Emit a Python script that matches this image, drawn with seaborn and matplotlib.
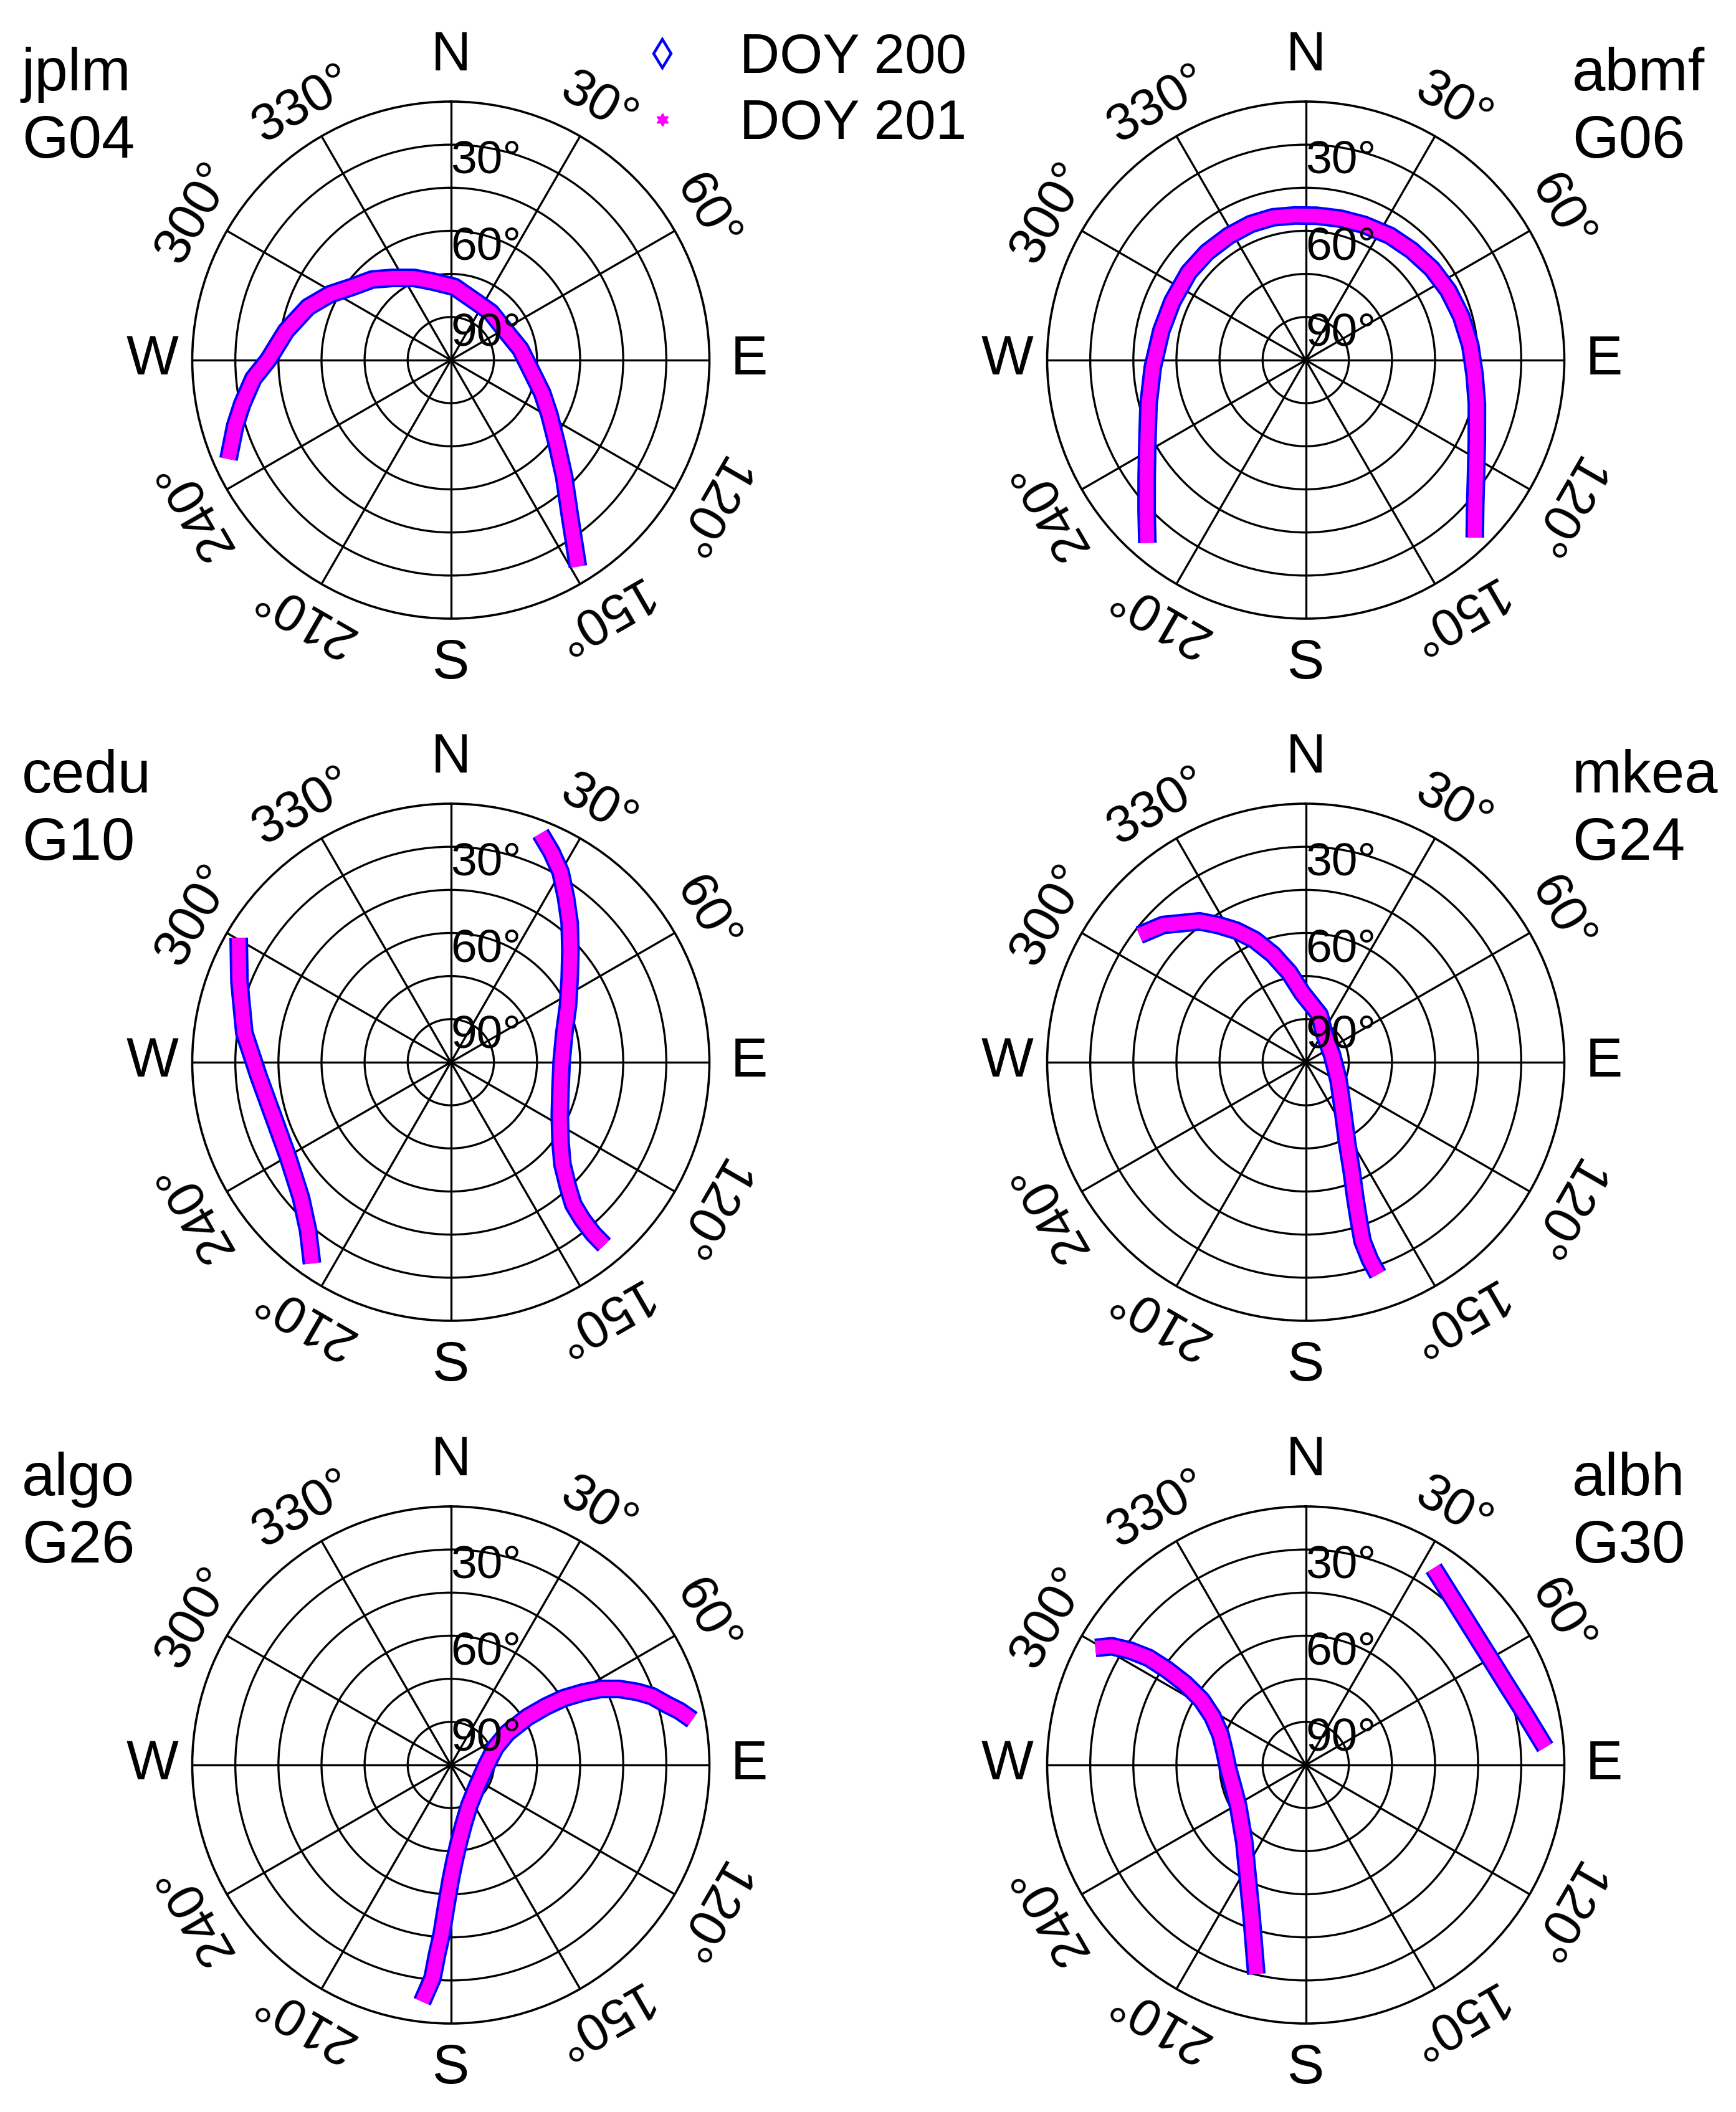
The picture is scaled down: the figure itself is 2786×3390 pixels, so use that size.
import numpy as np
import matplotlib
matplotlib.use("Agg")
import matplotlib.pyplot as plt
from matplotlib.lines import Line2D
import seaborn as sns

jplm_g04_az = [246.0, 253.0, 258.1, 264.7, 270.0, 280.1, 290.4, 298.6, 306.5, 315.7, 324.6, 336.0,
               346.9, 2.9, 20.0, 40.2, 61.9, 81.0, 97.8, 109.8, 119.1, 128.4, 135.9, 142.3, 148.4]
jplm_g04_el = [5.3, 11.5, 15.8, 21.0, 26.4, 31.8, 37.0, 42.1, 47.2, 50.8, 54.9, 58.7,
               61.9, 64.5, 67.6, 68.3, 68.4, 65.5, 61.7, 56.2, 50.7, 42.9, 33.3, 22.4, 5.6]

abmf_g06_az = [220.9, 226.7, 233.7, 243.1, 254.4, 267.3, 281.5, 293.7, 306.9, 317.5, 328.3, 338.0,
               347.0, 355.7, 4.3, 13.8, 23.4, 34.1, 44.0, 54.1, 64.0, 74.2, 84.9, 95.0, 104.4,
               115.2, 124.5, 130.8, 136.4]
abmf_g06_el = [5.8, 13.9, 21.3, 28.2, 33.2, 36.7, 38.7, 39.3, 39.1, 39.1, 39.1, 38.9,
               39.0, 39.5, 39.6, 39.3, 38.7, 37.7, 36.9, 35.8, 34.8, 33.8, 32.5, 31.0, 28.5,
               24.2, 18.1, 12.1, 4.7]

cedu_g10a_az = [300.4, 290.8, 278.1, 265.6, 252.8, 239.7, 227.9, 220.3, 214.6]
cedu_g10a_el = [4.4, 11.3, 17.4, 23.0, 25.4, 24.4, 19.7, 13.2, 4.9]
cedu_g10b_az = [21.4, 25.6, 30.0, 35.0, 40.5, 47.0, 54.7, 64.2, 75.5, 89.1, 103.1, 116.0,
                126.3, 132.5, 136.7, 139.3, 140.1, 140.3, 140.0]
cedu_g10b_el = [4.5, 8.9, 13.6, 20.1, 26.3, 33.1, 39.3, 44.7, 49.2, 51.4, 50.8, 47.8,
                42.6, 37.3, 30.6, 24.6, 18.6, 12.3, 6.9]

mkea_g24_az = [307.4, 313.9, 323.0, 327.4, 332.2, 337.3, 343.0, 349.6, 357.0, 16.3, 32.0, 74.5,
               119.1, 140.2, 152.8, 157.0, 159.9, 161.4, 162.4, 162.0, 161.2]
mkea_g24_el = [17.1, 21.1, 28.6, 33.3, 38.2, 43.8, 50.7, 58.3, 65.8, 72.8, 78.0, 80.5,
               76.9, 70.1, 58.5, 49.2, 39.9, 32.2, 24.6, 17.7, 12.0]

algo_g26_az = [79.4, 76.7, 74.3, 71.1, 68.6, 65.7, 63.1, 61.2, 59.4, 58.4, 58.0, 60.4, 68.5,
               91.2, 128.4, 155.9, 167.8, 174.1, 177.8, 180.0, 181.9, 183.1, 184.2, 184.9, 186.9]
algo_g26_el = [4.5, 8.2, 12.0, 16.0, 20.3, 25.7, 31.5, 37.7, 44.2, 51.1, 58.5, 67.3, 73.3,
               77.7, 78.3, 74.4, 68.9, 62.9, 56.6, 50.3, 40.7, 31.1, 23.4, 15.6, 7.0]

albh_g30a_az = [299.1, 301.5, 303.1, 304.3, 304.5, 304.0, 302.0, 297.5, 289.6, 279.7, 266.8,
                252.6, 238.8, 218.4, 206.9, 199.8, 195.3, 193.3]
albh_g30a_el = [6.2, 10.9, 17.1, 23.8, 31.3, 39.3, 47.2, 53.4, 58.5, 61.3, 63.0,
                63.6, 62.5, 55.6, 45.5, 34.3, 22.4, 15.2]
albh_g30b_az = [33.0, 41.1, 50.0, 59.2, 68.4, 77.0, 85.8]
albh_g30b_el = [8.3, 12.6, 15.2, 15.9, 14.7, 11.6, 6.4]

stations = ["jplm", "abmf", "cedu", "mkea", "algo", "albh"]
prns = ["G04", "G06", "G10", "G24", "G26", "G30"]
tracks = [
    [(jplm_g04_az, jplm_g04_el)],
    [(abmf_g06_az, abmf_g06_el)],
    [(cedu_g10a_az, cedu_g10a_el), (cedu_g10b_az, cedu_g10b_el)],
    [(mkea_g24_az, mkea_g24_el)],
    [(algo_g26_az, algo_g26_el)],
    [(albh_g30a_az, albh_g30a_el), (albh_g30b_az, albh_g30b_el)],
]
days = ["DOY 200", "DOY 201"]
az_labels = [30, 60, 120, 150, 210, 240, 300, 330]
compass = {0: "N", 90: "E", 180: "S", 270: "W"}
el_labels = [30, 60, 90]

sns.set_style("white")
plt.rcParams["font.family"] = ["Liberation Sans", "DejaVu Sans"]
plt.rcParams["text.color"] = "black"

W, H = 2786, 3390
fig = plt.figure(figsize=(W / 200, H / 200), dpi=200)

centers_x = [723.5, 2095.5]
centers_y = [578, 1705, 2833]
R = 415
big = 32
lab = 34.5
az_fs = 30
el_fs = 27

for i in range(6):
    row, col = divmod(i, 2)
    cx, cy = centers_x[col], centers_y[row]
    ax = fig.add_axes([(cx - R) / W, (H - cy - R) / H, 2 * R / W, 2 * R / H],
                      projection="polar")
    ax.set_theta_zero_location("N")
    ax.set_theta_direction(-1)
    ax.set_rlim(90, 0)
    ax.set_xticks(np.deg2rad(np.arange(0, 360, 30)))
    ax.set_yticks([75, 60, 45, 30, 15])
    ax.set_xticklabels([])
    ax.set_yticklabels([])
    ax.grid(True, color="black", lw=1.2, ls="-")
    ax.spines["polar"].set_color("black")
    ax.spines["polar"].set_linewidth(1.3)

    for az, el in tracks[i]:
        th = np.deg2rad(np.unwrap(np.array(az), period=360))
        sns.lineplot(x=th, y=el, ax=ax, sort=False, estimator=None, color="blue",
                     linewidth=10.8, solid_capstyle="butt", solid_joinstyle="round", zorder=3)
        sns.lineplot(x=th, y=el, ax=ax, sort=False, estimator=None, color="magenta",
                     linewidth=8.0, solid_capstyle="butt", solid_joinstyle="round", zorder=4)
    ax.set_xlabel("")
    ax.set_ylabel("")

    for a in az_labels:
        ax.text(np.deg2rad(a), -12.8, f"{a}°", fontsize=az_fs, ha="center", va="center",
                rotation=-a, rotation_mode="anchor")
    for a, t in compass.items():
        r = -15.8 if a in (0, 180) else -13.9
        ax.text(np.deg2rad(a), r, t, fontsize=big, ha="center", va="center")
    for e in el_labels:
        ax.text(0, e - 9.3, f"{e}°", fontsize=el_fs, ha="left", va="center", zorder=5)

    tx = 0.0125 if col == 0 else 0.9056
    fig.text(tx, 1 - (cy - 433) / H, stations[i], fontsize=lab, ha="left", va="baseline")
    fig.text(tx, 1 - (cy - 325) / H, prns[i], fontsize=lab, ha="left", va="baseline")

handles = [
    Line2D([], [], ls="none", marker="d", markersize=11.5, markerfacecolor="none",
           markeredgecolor="blue", markeredgewidth=1.6),
    Line2D([], [], ls="none", marker=(6, 1, 0), markersize=7, color="magenta"),
]
fig.legend(handles, days, loc="upper left", bbox_to_anchor=(974 / W, 1 - 52 / H),
           frameon=False, fontsize=big, borderpad=0, borderaxespad=0,
           handlelength=2.0, handletextpad=0.4, labelspacing=0.25)

fig.savefig("out.png", dpi=200, facecolor="white")
